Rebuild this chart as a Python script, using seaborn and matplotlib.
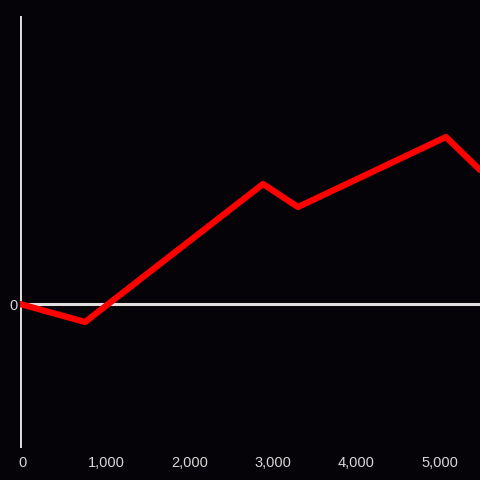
import pandas as pd
import matplotlib
matplotlib.use("Agg")
import matplotlib.pyplot as plt
import matplotlib.transforms as mtransforms
import seaborn as sns
from matplotlib.ticker import FuncFormatter

# values
x_vals = [0, 780, 2914, 3333, 5108, 5516]
y_vals = [0, -18, 120, 97, 167, 134]
x_ticks = [0, 1000, 2000, 3000, 4000, 5000]

df = pd.DataFrame({"x": x_vals, "y": y_vals})

bg = "#050307"
axis_col = "#e0e0e0"
text_col = "#d8d8d8"

sns.set_style("dark")
plt.rcParams["font.family"] = ["Liberation Sans", "DejaVu Sans"]

fig = plt.figure(figsize=(4.8, 4.8), dpi=100)
fig.patch.set_facecolor(bg)
ax = fig.add_axes([20 / 480, 32 / 480, 460 / 480, 432 / 480])
ax.set_facecolor(bg)

# zero line and y axis line
ax.axhline(0, color=axis_col, lw=2.2, zorder=1)
ax.axvline(0, color=axis_col, lw=2.8, zorder=1)

sns.lineplot(data=df, x="x", y="y", color="#ff0000", lw=4.5, ax=ax, zorder=3)

ax.set_xlim(0, 5516)
ax.set_ylim(-144, 288)
ax.set_xticks(x_ticks)
ax.xaxis.set_major_formatter(FuncFormatter(lambda v, p: f"{int(v):,}"))
ax.set_yticks([0])
ax.tick_params(axis="both", length=0, colors=text_col, labelsize=10.5)
ax.tick_params(axis="x", pad=6)
ax.tick_params(axis="y", pad=2)
ax.set_xlabel("")
ax.set_ylabel("")
ax.grid(False)
for s in ax.spines.values():
    s.set_visible(False)

# nudge x tick labels slightly to the right like the reference
shift = mtransforms.ScaledTranslation(2.5 / 100, 0, fig.dpi_scale_trans)
for lab in ax.get_xticklabels():
    lab.set_transform(lab.get_transform() + shift)

fig.savefig("out.png", dpi=100, facecolor=bg)
